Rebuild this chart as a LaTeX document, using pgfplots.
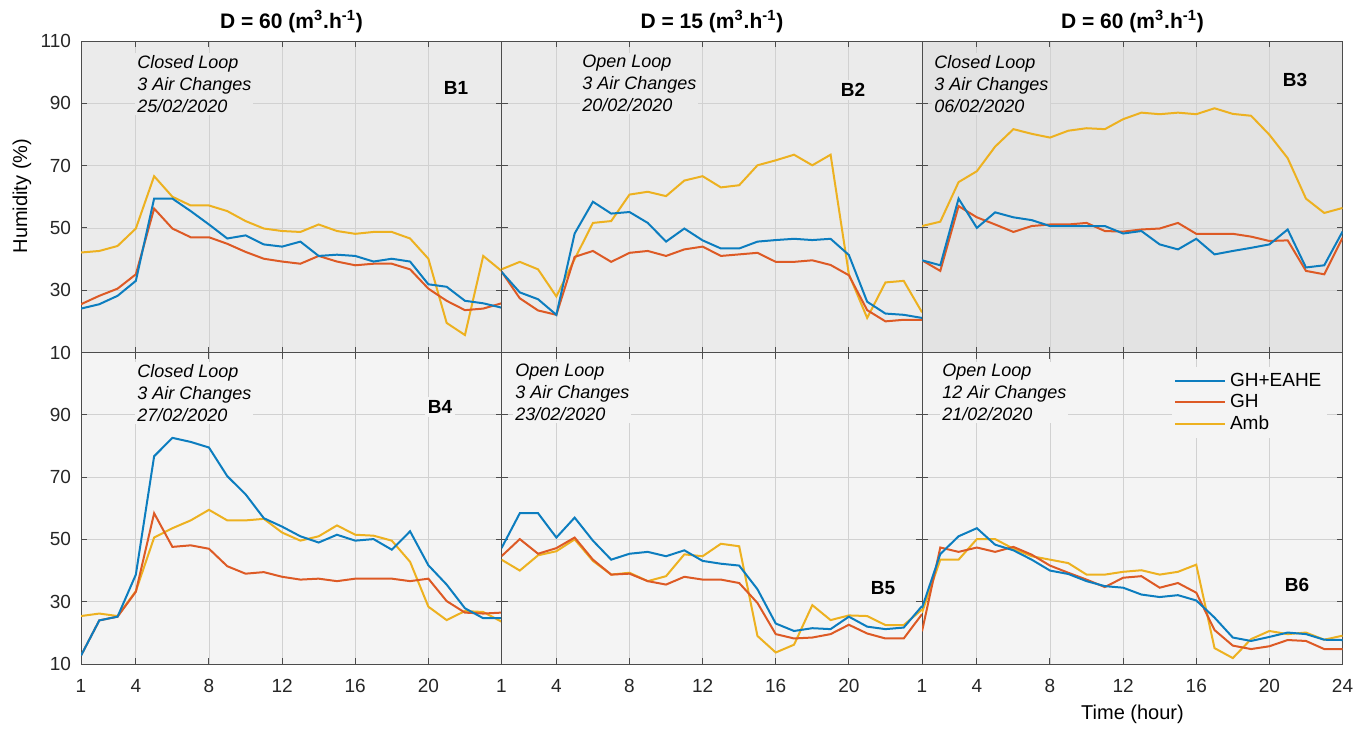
\documentclass[border=0pt]{standalone}
\usepackage{pgfplots}
\usepackage{pgfplotstable}
\pgfplotsset{compat=1.18}
\usepackage{fontspec}
\setmainfont{Liberation Sans}
\definecolor{cB}{HTML}{0C7DBF}
\definecolor{cR}{HTML}{DD5A25}
\definecolor{cY}{HTML}{EDB120}
\definecolor{bgA}{HTML}{EBEBEB}
\definecolor{bgB}{HTML}{E3E3E3}
\definecolor{bgC}{HTML}{F4F4F4}

\pgfplotstableread{
h ehe gh amb
1 24.1 25.5 42.1
2 25.5 28.2 42.6
3 28.2 30.5 44.2
4 33.0 35.1 49.8
5 59.4 56.2 66.6
6 59.4 49.8 60.0
7 55.4 47.0 57.2
8 51.1 47.0 57.2
9 46.6 44.9 55.4
10 47.6 42.3 52.2
11 44.7 40.1 49.8
12 44.0 39.2 49.0
13 45.6 38.5 48.7
14 41.0 41.0 51.1
15 41.4 39.2 49.0
16 41.0 38.0 48.1
17 39.2 38.5 48.7
18 40.1 38.5 48.7
19 39.2 36.7 46.6
20 31.9 30.5 40.1
21 31.1 26.6 19.5
22 26.6 23.6 15.6
23 25.8 24.1 41.0
24 24.4 25.8 36.2
}\tbA
\pgfplotstableread{
h ehe gh amb
1 35.9 36.0 36.7
2 29.3 27.4 39.1
3 27.1 23.5 36.7
4 22.1 22.1 28.0
5 48.2 40.7 40.0
6 58.4 42.6 51.6
7 54.6 39.1 52.2
8 55.1 42.0 60.7
9 51.6 42.6 61.6
10 45.6 41.0 60.2
11 49.8 43.1 65.2
12 46.0 44.0 66.6
13 43.4 41.0 63.0
14 43.4 41.5 63.7
15 45.6 42.0 70.1
16 46.1 39.1 71.7
17 46.5 39.1 73.5
18 46.1 39.6 70.1
19 46.5 38.1 73.5
20 41.3 34.8 35.1
21 26.3 23.6 21.1
22 22.5 20.0 32.5
23 22.1 20.5 33.0
24 21.1 20.5 22.9
}\tbB
\pgfplotstableread{
h ehe gh amb
1 39.6 39.6 50.6
2 38.0 36.2 52.0
3 59.4 57.0 64.7
4 50.0 53.4 68.2
5 55.0 51.1 76.1
6 53.4 48.7 81.7
7 52.5 50.6 80.2
8 50.6 51.1 79.0
9 50.6 51.1 81.2
10 50.6 51.6 82.0
11 50.6 49.0 81.7
12 48.2 48.8 84.9
13 49.0 49.5 87.0
14 44.7 49.8 86.5
15 43.1 51.6 87.0
16 46.5 48.1 86.5
17 41.5 48.1 88.4
18 42.6 48.1 86.6
19 43.6 47.2 86.0
20 44.7 45.8 79.9
21 49.5 46.0 72.4
22 37.3 36.2 59.4
23 38.0 35.1 54.8
24 48.8 46.8 56.4
}\tbC
\pgfplotstableread{
h ehe gh amb
1 12.7 12.7 25.4
2 24.0 24.0 26.2
3 25.2 25.2 25.4
4 38.7 33.2 33.4
5 76.7 58.4 50.6
6 82.6 47.6 53.6
7 81.3 48.1 56.1
8 79.5 47.0 59.5
9 70.3 41.4 56.1
10 64.5 39.0 56.1
11 56.8 39.5 56.6
12 54.1 38.0 52.2
13 51.0 37.1 49.6
14 49.0 37.4 51.0
15 51.5 36.6 54.5
16 49.6 37.4 51.5
17 50.1 37.4 51.2
18 46.7 37.4 49.6
19 52.6 36.6 42.8
20 41.7 37.4 28.4
21 35.5 30.2 24.1
22 27.9 26.5 27.0
23 24.7 26.2 26.7
24 24.7 26.5 23.6
}\tbD
\pgfplotstableread{
h ehe gh amb
1 47.2 44.6 43.5
2 58.4 50.1 40.0
3 58.4 45.4 44.9
4 50.6 47.2 46.2
5 57.0 50.6 50.0
6 49.6 43.5 43.1
7 43.5 38.7 38.7
8 45.4 39.0 39.3
9 46.0 36.6 36.6
10 44.6 35.5 38.2
11 46.5 38.0 45.2
12 43.1 37.1 44.6
13 42.2 37.1 48.6
14 41.6 36.0 47.8
15 34.0 29.6 19.0
16 23.0 19.6 13.7
17 20.6 18.2 16.2
18 21.5 18.5 28.9
19 21.2 19.6 24.1
20 25.2 22.6 25.6
21 22.0 19.8 25.4
22 21.2 18.2 22.5
23 21.7 18.2 22.5
24 28.6 26.0 27.5
}\tbE
\pgfplotstableread{
h ehe gh amb
1 28.0 20.5 26.5
2 45.3 47.4 43.5
3 51.0 46.0 43.5
4 53.6 47.4 50.1
5 48.3 46.0 50.1
6 46.5 47.6 47.0
7 43.5 45.1 44.6
8 40.0 41.6 43.5
9 38.9 39.3 42.4
10 36.6 37.1 38.7
11 35.0 34.7 38.7
12 34.5 37.7 39.6
13 32.3 38.2 40.1
14 31.5 34.5 38.7
15 32.1 36.0 39.6
16 30.4 32.9 41.9
17 24.9 20.9 15.1
18 18.5 15.9 11.9
19 17.4 14.8 18.0
20 18.7 15.7 20.6
21 20.1 17.7 19.6
22 19.6 17.4 20.1
23 17.8 14.8 17.8
24 17.7 14.8 19.1
}\tbF

\pgfplotsset{
  panel/.style={
    scale only axis, width=210.25pt, height=155.75pt,
    anchor=north west,
    xmin=1, xmax=24, ymin=10, ymax=110,
    xtick={1,4,8,12,16,20}, ytick={10,30,50,70,90,110},
    xticklabels=\empty, yticklabels=\empty,
    tick align=inside, major tick length=3pt,
    grid=major,
    major grid style={color=black!18, line width=0.4pt},
    axis line style={color=black!70, line width=0.5pt},
    tick style={color=black!70, line width=0.5pt},
    ticklabel style={font=\fontsize{9.5}{11}\selectfont, color=black!85},
    xticklabel style={yshift=-4pt},
    yticklabel style={xshift=-1.5pt},
    /pgf/number format/assume math mode=true,
    every axis plot/.append style={line width=1pt, no markers},
    clip=true,
  },
}
\newcommand{\three}[1]{%
  \addplot[cY] table[x=h,y=amb]{#1};
  \addplot[cR] table[x=h,y=gh]{#1};
  \addplot[cB] table[x=h,y=ehe]{#1};
}

\begin{document}
\begin{tikzpicture}
\useasboundingbox (0pt,0pt) rectangle (684.5pt,-364.5pt);
% top row
\begin{axis}[panel, at={(40.5pt,-20.5pt)}, axis background/.style={fill=bgA},
  yticklabels={10,30,50,70,90,110}]
\three{\tbA}
\end{axis}
\begin{axis}[panel, at={(250.75pt,-20.5pt)}, axis background/.style={fill=bgA}]
\three{\tbB}
\end{axis}
\begin{axis}[panel, at={(461pt,-20.5pt)}, axis background/.style={fill=bgB}]
\three{\tbC}
\end{axis}
% bottom row
\begin{axis}[panel, at={(40.5pt,-176.25pt)}, axis background/.style={fill=bgC},
  yticklabels={10,30,50,70,90,}, xticklabels={1,4,8,12,16,20}]
\three{\tbD}
\end{axis}
\begin{axis}[panel, at={(250.75pt,-176.25pt)}, axis background/.style={fill=bgC},
  xticklabels={1,4,8,12,16,20}]
\three{\tbE}
\end{axis}
\begin{axis}[panel, at={(461pt,-176.25pt)}, axis background/.style={fill=bgC},
  xtick={1,4,8,12,16,20,24}, xticklabels={1,4,8,12,16,20,24},
  reverse legend,
  legend style={draw=none, fill=bgC, at={(0.965,0.955)}, anchor=north east,
    font=\fontsize{9.5}{11}\selectfont, row sep=-1.5pt, inner sep=1pt},
  legend cell align=left,
  legend image code/.code={\draw[#1] (0pt,0pt) -- (25pt,0pt);}]
\three{\tbF}
\legend{Amb,GH,GH+EAHE}
\end{axis}

% annotations
\tikzset{ann/.style={anchor=north west, align=left, inner sep=1pt,
  font=\itshape\fontsize{9}{11}\selectfont},
  blab/.style={font=\bfseries\fontsize{9.5}{11}\selectfont, inner sep=1.5pt}}
\node[ann, fill=bgA] at (67.5pt,-26.5pt) {Closed Loop\\3 Air Changes\\25/02/2020};
\node[ann, fill=bgA] at (290pt,-26.5pt) {Open Loop\\3 Air Changes\\20/02/2020};
\node[ann, fill=bgB] at (466pt,-26.5pt) {Closed Loop\\3 Air Changes\\06/02/2020};
\node[ann, fill=bgC] at (67.5pt,-181pt) {Closed Loop\\3 Air Changes\\27/02/2020};
\node[ann, fill=bgC] at (256.5pt,-181pt) {Open Loop\\3 Air Changes\\23/02/2020};
\node[ann, fill=bgC] at (470pt,-181pt) {Open Loop\\12 Air Changes\\21/02/2020};
\node[blab, fill=bgA] at (228pt,-44pt) {B1};
\node[blab, fill=bgA] at (426.5pt,-45pt) {B2};
\node[blab, fill=bgB] at (647.5pt,-40pt) {B3};
\node[blab, fill=bgC] at (220pt,-203.5pt) {B4};
\node[blab, fill=bgC] at (441.5pt,-294pt) {B5};
\node[blab, fill=bgC] at (648.5pt,-292.5pt) {B6};

% titles and labels
\tikzset{ttl/.style={font=\bfseries\fontsize{10.5}{12}\selectfont}}
\node[ttl] at (145.75pt,-11pt) {D = 60 (m\textsuperscript{3}.h\textsuperscript{-1})};
\node[ttl] at (356pt,-11pt) {D = 15 (m\textsuperscript{3}.h\textsuperscript{-1})};
\node[ttl] at (566.25pt,-11pt) {D = 60 (m\textsuperscript{3}.h\textsuperscript{-1})};
\node[rotate=90, font=\fontsize{10}{12}\selectfont] at (11pt,-98pt) {Humidity (\%)};
\node[font=\fontsize{10}{12}\selectfont] at (566.25pt,-357pt) {Time (hour)};
\end{tikzpicture}
\end{document}
